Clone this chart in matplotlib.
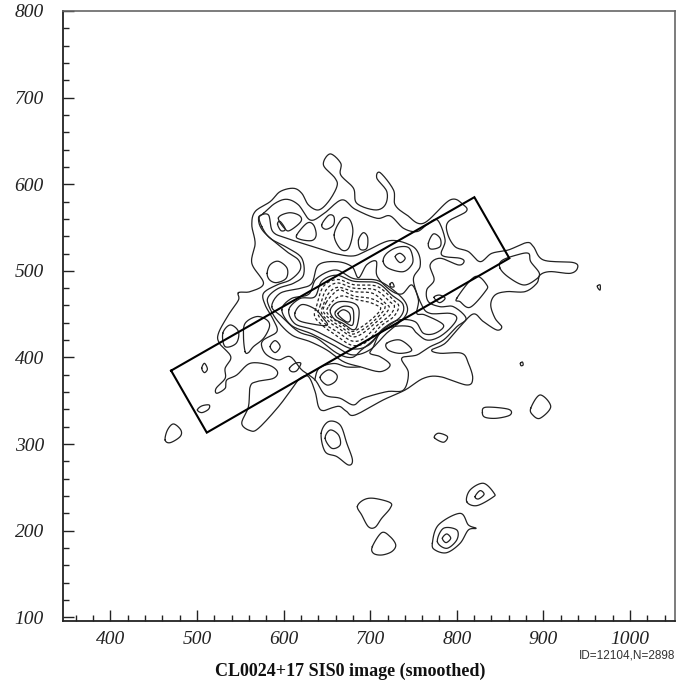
import numpy as np
import matplotlib
matplotlib.use("Agg")
import matplotlib.pyplot as plt

plt.rcParams["font.family"] = ["Liberation Serif", "DejaVu Serif"]

# Slit region drawn on the image
slit_x = [470.1, 820.3, 860.7, 511.3, 470.1]
slit_y = [384.8, 585.0, 514.5, 313.2, 384.8]

x_major = [400, 500, 600, 700, 800, 900, 1000]
y_major = [100, 200, 300, 400, 500, 600, 700, 800]
x_labels = ["400", "500", "600", "700", "800", "900", "1000"]
y_labels = ["100", "200", "300", "400", "500", "600", "700", "800"]

# ---------------------------
# Contours (detector x, y)
# ---------------------------
outer_main = [(547.9,474.8),(561.4,476),(576.8,485.6),(563.3,508.7),(567.1,531.8),(563.3,553),(567.1,568.4),
    (584.5,579.9),(596,591.5),(611.4,595.3),(621,589.5),(628.7,576.1),(640.3,570.3),(651.8,579.9),(661.5,597.2),
    (659.5,606.9),(646,622.3),(653.7,635),(666,624.2),(666,610.7),(680.7,595.3),(684.5,578),(705.7,570.3),
    (717.3,576.1),(719.2,591.5),(707.7,606.9),(711.5,613.4),(726.9,593.4),(728.8,576.1),(742.3,564.5),(761.5,554.9),
    (792.4,581.9),(807.7,576.1),(810.7,568.4),(790.3,556.8),(789.2,543.4),(798,527.9),(813.4,522.2),(826.9,510.6),
    (840.4,520.2),(859.6,524.1),(880.8,532.6),(888.5,527.9),(900.1,512.5),(934.7,509.5),(939.3,502.9),(930.9,497.1),
    (907.8,499.1),(896.2,495.2),(892.4,485.6),(878.9,476),(857.7,476),(844.2,472.1),(839.2,460.6),(844.2,445.2),
    (851.9,435.5),(846.2,431.7),(830.8,441.3),(819.2,450.2),(803.8,435.5),(786.5,416.3),(771.1,408.6),(780.7,404.8),
    (805.7,404.8),(813.4,393.2),(818.4,375.9),(811.5,368.2),(780.7,377.8),(761.5,375.9),(740.3,362.4),(715.2,351),
    (682.5,333.6),(672.9,337.5),(665.2,343.3),(657.6,342.4),(646,338.6),(640.3,343.2),(636.4,360.5),(628.7,377.9),
    (619.1,376),(611.4,366.3),(594.1,343.2),(571,318.2),(561.4,315.5),(551.7,323.9),(559.4,343.2),(561.4,366.3),
    (569,372.1),(588.3,375.9),(592.9,383.6),(582.5,391.3),(561.4,393.2),(546,379.8),(534.4,374),(532.5,364.4),
    (522.9,358.6),(522.1,364.4),(532.5,375.9),(532.5,387.5),(539,400.9),(525.9,416.4),(524.8,427.9),(536.3,449.1),
    (547.9,466.4)]
level2 = [(576.8,566.4),(590.2,578),(603.7,582.6),(617.2,576.1),(630.7,558.7),(646,565.7),(667.2,581.9),(682.6,571.1),
    (707.7,560.7),(723,563.4),(738.5,549.1),(753.9,545.3),(765.3,553),(777.6,558.7),(786.5,535.7),(782.6,518.3),
    (803.8,514.5),(808.4,510.6),(801.9,506.8),(780.7,514.5),(769.2,506.8),(773.8,489.4),(765.3,477.9),(767.2,464.4),
    (780.7,458.6),(796.1,458.6),(810.7,445.2),(800,435.5),(784.6,420.1),(769.2,412.4),(753.8,402.8),(736.4,399),
    (744.1,382.4),(738.4,362.4),(719.1,360.5),(692.2,352.9),(680.6,345.2),(665.2,352.9),(648,356.7),(636.4,374),
    (621,385.6),(607.6,400.9),(594,397.1),(580.6,402.9),(574.8,412.5),(576.8,420.2),(592.2,429.8),(588.3,443.2),
    (578.7,460.6),(576.8,474.1),(592.2,483.7),(607.6,489.5),(619.1,501),(617.2,512.5),(603.7,522.2),(576.8,545.3),
    (571,560.7)]
level3 = [(574.8,551.1),(572.1,562.6),(582.5,564.5),(587.5,545.3),(603.7,537.6),(640.3,526),(661.5,519.5),(680.7,517.2),
    (696.1,523.3),(723,534.9),(746,529.9),(755.7,520.2),(757.6,504.9),(749.9,489.4),(759.5,460.6),(769.2,450.9),
    (792.2,450.9),(800,445.2),(792.2,433.6),(778.8,423.2),(765.3,420.1),(753.8,427.9),(746,435.5),(726.8,435.5),
    (711.4,427.9),(703.7,412.4),(699.9,404.7),(711.4,400.9),(723,391.3),(711.4,383.6),(688.3,389.3),(669.2,395.1),
    (649.9,408.6),(630.7,418.2),(609.5,425.9),(592.2,443.2),(582.5,460.6),(582.5,470.2),(594,479.8),(611.4,485.6),
    (623,495.2),(621,514.5),(605.6,526),(584.5,537.6)]
level4 = [(586.4,458.7),(596,474.1),(619.1,479.8),(632.6,485.6),(640.3,506.8),(661.5,510.6),(678.8,504.9),(686.5,492),
    (696,507),(707,511),(708,494),(723,477.9),(736.5,473.3),(748.1,483.7),(755.7,466.3),(753.8,450.9),(763.4,449),
    (784.6,437.5),(774.9,427.9),(761.5,427.9),(751.8,441.3),(732.6,443.2),(715.3,433.6),(703.7,420.1),(690.2,409),
    (678.8,400),(661.5,405),(638.4,422.1),(617.2,429.8),(597.9,447.1)]
level5 = [(598,455),(609,468),(629,473),(638,491),(660,501),(681,491),(708,489),(729,476),(742,461),(740,447),(719,428),
    (700,409),(679,403),(658,414),(633,427),(609,437)]
level6 = [(606,455),(619,468),(636,470),(644,488),(661,495),(681,488),(708,486),(725,472),(738,461),(735,447),(715,432),
    (698,414),(679,410),(658,420),(634,432),(613,439)]
finger = [(613,451),(621,461),(636,456),(646,445),(650,437),(631,439),(617,443)]
lower_arc = [(636,374),(641,387.5),(658,393),(673,389),(688,389)]

peak_1 = [(654,455),(663,464),(680,463),(687,455),(685,437),(680,432),(669,439),(658,445)]
peak_2 = [(660,453),(669,459),(679,457),(681,447),(679,437),(669,442),(661,447)]
peak_3 = [(663,451),(669,455),(676,451),(677,443),(673,441),(665,447)]

dash_1 = [(638,459),(646,482),(662,490),(681,484),(708,482),(727,466),(733,459),(727,447),(712,436),(696,418),(679,414),
    (660,426),(646,436),(636,447)]
dash_2 = [(642,459),(649,478),(662,486),(681,480),(706,478),(723,464),(728,459),(723,449),(708,437),(693,422),(679,419),
    (663,429),(650,437),(640,449)]
dash_3 = [(646,461),(652,474),(663,481),(681,476),(703,474),(718,462),(722,458),(718,451),(705,439),(690,427),(679,424),
    (666,432),(654,440),(644,451)]
dash_4 = [(649,463),(656,472),(665,478),(681,471),(701,468),(715,461),(717,457),(713,451),(702,440),(691,432),(679,427),
    (667,435),(656,442),(646,453)]
dash_5 = [(652,459),(660,468),(669,471),(683,467),(698,464),(710,459),(712,456),(708,450),(698,441),(688,434),(679,430),
    (669,437),(658,444),(650,452)]

# small closed islands inside and around the main body
loop_a = [(581,497),(584.5,507),(594,511),(604,503),(603,491.5),(592,486.4),(584,489.4)]
loop_b = [(593,554),(596,557),(602,548),(597,546.4)]
loop_c = [(594,561),(606,567),(618,564),(620,557),(608,547),(602,548)]
loop_d = [(615,541),(627,555),(634.5,553),(637.6,541.4),(632.6,535),(619,536.4)]
loop_e = [(644,553),(652,564),(658,562.6),(657.6,553),(649,548)]
loop_f = [(658.4,541.4),(667.2,559.9),(676,559.5),(680,545.3),(675,526),(666,525)]
loop_g = [(686.5,535.6),(692,544),(697,538.7),(696,526),(688.4,525)]
ring_a = [(729,516.4),(734.6,520.2),(740.4,514.5),(734.6,509.5)]
ring_b = [(715,511),(719,520),(731,527),(744,527),(749,516.4),(748,507),(738,499),(721,503)]
loop_h = [(767.2,531.8),(773,542.6),(780.7,537.6),(780.7,528),(770,525.2)]
loop_i = [(723,484.8),(725.6,486.4),(727.6,481.7),(723.7,481.7)]
right_lobe = [(850,503),(860,492.5),(877,483.7),(890.4,489.4),(895.4,497),(885.4,510.6),(882.7,520.2),(869.3,518.3),(852,511.8)]
loop_j = [(800,468.3),(821,493.3),(834.6,483.7),(832.7,476),(815.4,457.9),(803.8,464.4)]
loop_k = [(773.8,469.4),(780,472),(786.5,468.3),(780,463.3)]
tiny_right = [(962.4,482.5),(965.5,483.7),(965.5,477.9),(963.2,479.8)]
tiny_low = [(873.5,393.2),(875.8,394.7),(876.6,391.3),(874.2,390.5)]
loop_l = [(719,416.3),(734.5,420.1),(748,408.6),(734.5,404.7),(721,408.6)]
loop_m = [(584.5,412.5),(590.2,419.4),(596,412.5),(590.2,405.6)]
loop_n = [(606.8,387.5),(613.3,393.2),(619.9,393.2),(615.3,384.8),(609.5,383.6)]
loop_o = [(642.2,377.1),(651.8,385.6),(661.5,379.8),(659.5,372.1),(650,368.2)]
loop_p = [(529.8,427.9),(538.3,437.5),(547.9,429.8),(545.2,416.3),(532.5,412.5)]
tongue = [(555.6,406.7),(559.4,405.6),(565.2,412.5),(576.8,422.1),(583.7,435.6),(580.6,443.3),(569,447.2),(555.6,439.4),(553.7,424)]
diamond = [(505.5,387.5),(508.6,393.2),(512,386.7),(508.6,382.5)]
loop_q = [(500.5,339.4),(505.5,344),(514,345.1),(513.2,340.1),(505.5,336.3)]
left_blob = [(463.2,304.7),(465.9,316.2),(472.8,323.2),(481.3,316.2),(480.5,308.6),(469,301.6)]
low_lobe = [(643.4,312.4),(651.8,325.9),(665.3,322),(673,300.9),(679.5,281.6),(675,275.8),(661.5,285.5),(648,291.2)]
low_lobe_in = [(648,306.6),(653.8,316.2),(663.4,310.5),(665.3,298.9),(655.7,295.1)]
bar_blob = [(829.6,336.3),(833.4,342.5),(859.6,340.2),(861.6,333.6),(846.2,329.8),(832.7,330.9)]
round_blob = [(885.4,341.3),(896.2,356.7),(908.5,343.3),(896.2,329.8),(887.7,333.6)]
small_blob = [(774.2,307.4),(778.8,312.5),(789.2,308.6),(784.6,302.1)]
src_a = [(811.5,233.5),(815.4,247),(830.8,254.7),(843.1,243.2),(841.5,238.5),(823.1,228.9)]
src_a_in = [(821.1,239.3),(826.9,246.2),(831.5,242),(825,236.6)]
src_b = [(685.2,227.8),(692.2,235.4),(703.7,237.4),(723,232.4),(723,225.8),(713.3,214.3),(705.6,203.9),(697.9,204.6),(690.2,218.1)]
src_c = [(702.5,181.6),(713.3,197.7),(723,193.1),(729.5,183.5),(724.9,175.8),(713.3,171.9),(703.7,173.9)]
src_d = [(771.8,185.4),(778.8,206.6),(803.8,220),(813.4,206.6),(822.3,202.7),(813.4,200.8),(803.8,185.4),(788.4,174.6),(774.9,177.7)]
src_d_mid = [(777.6,187.3),(784.6,202.7),(800,200.8),(800,189.3),(788.4,179.6)]
src_d_in = [(783.4,191.2),(788.4,196.2),(793,191.2),(787.6,186.2)]

solid_contours = [outer_main, level2, level3, level4, level5, level6, finger, peak_1, peak_2, peak_3,
    loop_a, loop_b, loop_c, loop_d, loop_e, loop_f, loop_g, ring_a, ring_b, loop_h, loop_i, right_lobe,
    loop_j, loop_k, tiny_right, tiny_low, loop_l, loop_m, loop_n, loop_o, loop_p, tongue, diamond, loop_q,
    left_blob, low_lobe, low_lobe_in, bar_blob, round_blob, small_blob, src_a, src_a_in, src_b, src_c,
    src_d, src_d_mid, src_d_in]
dashed_contours = [dash_1, dash_2, dash_3, dash_4, dash_5]


def smooth(pts, closed=True, n=12):
    # Catmull-Rom through the read points, so the outlines come out round
    p = np.array(pts, dtype=float)
    if closed:
        p = np.vstack([p[-1], p, p[0], p[1]])
    else:
        p = np.vstack([p[0], p, p[-1]])
    t = np.linspace(0, 1, n, endpoint=False)[:, None]
    out = []
    for i in range(1, len(p) - 2):
        p0, p1, p2, p3 = p[i - 1], p[i], p[i + 1], p[i + 2]
        out.append(0.5 * (2 * p1 + (p2 - p0) * t + (2 * p0 - 5 * p1 + 4 * p2 - p3) * t ** 2
                          + (3 * p1 - p0 - 3 * p2 + p3) * t ** 3))
    out = np.vstack(out + [p[len(p) - 2]])
    return out[:, 0], out[:, 1]


fig = plt.figure(figsize=(6.91, 6.83), dpi=100)
ax = fig.add_axes([63.3 / 691, 62 / 683, (675 - 63.3) / 691, 610 / 683])

for c in solid_contours:
    xs, ys = smooth(c)
    ax.plot(xs, ys, color="#222222", lw=0.9)
for c in dashed_contours:
    xs, ys = smooth(c)
    ax.plot(xs, ys, color="#222222", lw=0.9, dashes=(2.4, 1.8))
xs, ys = smooth(lower_arc, closed=False)
ax.plot(xs, ys, color="#222222", lw=0.9)

ax.plot(slit_x, slit_y, color="black", lw=1.5, solid_joinstyle="miter")

ax.set_xlim(345.6, 1052)
ax.set_ylim(95.7, 800)
ax.set_xticks(x_major, labels=x_labels, fontstyle="italic", color="#222222")
ax.set_yticks(y_major, labels=y_labels, fontstyle="italic", color="#222222")
ax.set_xticks(np.arange(360, 1051, 20), minor=True)
ax.set_yticks(np.arange(120, 800, 20), minor=True)
ax.tick_params(axis="both", which="major", direction="in", length=8, width=1, color="#222222")
ax.tick_params(axis="both", which="minor", direction="in", length=4, width=1, color="#222222")
ax.tick_params(axis="x", which="major", pad=7, labelsize=14)
ax.tick_params(axis="y", which="major", pad=14, labelsize=14)
for side in ["left", "bottom"]:
    ax.spines[side].set_linewidth(1.3)
    ax.spines[side].set_color("#222222")
for side in ["top", "right"]:
    ax.spines[side].set_linewidth(1.2)
    ax.spines[side].set_color("#666666")

fig.text(675 / 691, 1 - 655 / 683, "ID=12104,N=2898", ha="right", va="center",
         family="Liberation Sans", fontsize=8.5, color="#333333")
fig.text(350 / 691, 1 - 671 / 683, "CL0024+17 SIS0 image (smoothed)", ha="center", va="center",
         fontweight="bold", fontsize=13, color="#111111")

fig.savefig("out.png", dpi=100)
